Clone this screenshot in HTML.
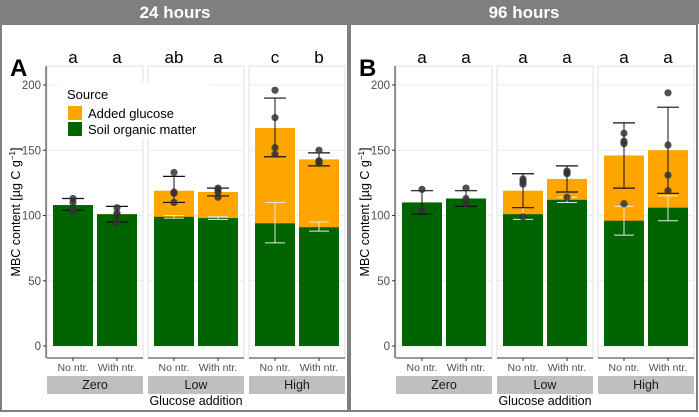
<!DOCTYPE html>
<html><head><meta charset="utf-8"><style>
body{margin:0;background:#fff;font-family:"Liberation Sans",sans-serif}
svg text{font-family:"Liberation Sans",sans-serif}
</style></head><body>
<svg id="c" width="699" height="412" viewBox="0 0 699 412"></svg>
<script>
const facets=["Zero","Low","High"];
const treatments=["No ntr.","With ntr."];
const panels=["24 hours","96 hours"];
const panelLetters=["A","B"];
const yTicks=[0,50,100,150,200];
const totals=[[108,101,119,118,167,143],[110,113,119,128,146,150]];
const soilMean=[[108,101,99,98,94,91],[110,113,101,112,96,106]];
const errLo=[[104,95,110,115,145,138],[101,107,106,118,121,117]];
const errHi=[[113,107,130,121,190,148],[119,119,132,138,171,183]];
const soilErrLo=[[null,null,98,97,79,88],[null,null,97,110,85,96]];
const soilErrHi=[[null,null,100,99,110,95],[null,null,106,114,107,115]];
const points=[[[103,105,110,113],[94,100,102,106],[110,117,118,133],[114,118,120,121],[147,152,175,196],[140,141,142,150]],
[[104,105,120],[109,110,113,121],[99,124,126,128],[114,132,133,134],[109,155,157,163],[119,131,154,194]]];
const letters=[["a","a","ab","a","c","b"],["a","a","a","a","a","a"]];

const NS="http://www.w3.org/2000/svg";
const svg=document.getElementById("c");
function el(tag,attrs,parent){const e=document.createElementNS(NS,tag);for(const k in attrs)e.setAttribute(k,attrs[k]);(parent||svg).appendChild(e);return e;}
function txt(s,attrs,parent){const t=el("text",attrs,parent);t.textContent=s;return t;}
const y0=346,y200=85;
function Y(v){return y0-(v/200)*(y0-y200);}

el("rect",{x:0,y:0,width:699,height:412,fill:"#ffffff"});
for(let p=0;p<2;p++){
  const off=p===0?0:349;
  const g=el("g",{});
  
  
  const hdr=el("rect",{x:off,y:0,width:p===0?349:350,height:24,fill:"#7f7f7f"},g);
  
  
  const ht=txt(panels[p],{x:off+175,y:18,"text-anchor":"middle","font-size":17,"font-weight":"bold",fill:"#fff"},g);
  
  
  el("rect",{x:off+1,y:24,width:347,height:387,fill:"none",stroke:"#7f7f7f","stroke-width":2},g);
  const L=txt(panelLetters[p],{x:off+10,y:76,"font-size":24,"font-weight":"bold",fill:"#000"},g);
  
  
  el("line",{x1:off+46,y1:66,x2:off+46,y2:358,stroke:"#333","stroke-width":1},g);
  yTicks.forEach(v=>{
    el("line",{x1:off+43,y1:Y(v),x2:off+46,y2:Y(v),stroke:"#333"},g);
    const t=txt(String(v),{x:off+41,y:Y(v)+4,"text-anchor":"end","font-size":11.5,fill:"#4d4d4d"},g);
    
    
  });
  const yt=txt("MBC content [µg C g",{transform:`translate(${off+20},212) rotate(-90)`,"text-anchor":"middle","font-size":12.5,fill:"#000"},g);
  const sup=el("tspan",{"font-size":8,dy:-5},yt);sup.textContent="−1";
  const cl=el("tspan",{"font-size":12.5,dy:5},yt);cl.textContent="]";
  
  
  const xt=txt("Glucose addition",{x:off+196,y:405,"text-anchor":"middle","font-size":12.5,fill:"#000"},g);
  
  
  facets.forEach((f,fi)=>{
    const fx=off+47+fi*101;
    const fr=el("rect",{x:fx,y:66,width:96,height:292,fill:"#fff",stroke:"#e0e0e0","stroke-width":1},g);
    
    
    yTicks.forEach(v=>el("line",{x1:fx,y1:Y(v),x2:fx+96,y2:Y(v),stroke:"#ebebeb"},g));
    el("line",{x1:fx,y1:358,x2:fx+96,y2:358,stroke:"#333"},g);
    const st=el("rect",{x:fx,y:376,width:96,height:18,fill:"#bfbfbf"},g);
    
    
    txt(f,{x:fx+48,y:389,"text-anchor":"middle","font-size":12.5,fill:"#1a1a1a"},g);
    treatments.forEach((tr,ti)=>{
      const i=fi*2+ti;
      const bx=fx+6+ti*44,bw=40,cx=bx+bw/2;
      el("line",{x1:cx,y1:358,x2:cx,y2:361,stroke:"#333"},g);
      const tl=txt(tr,{x:cx,y:371,"text-anchor":"middle","font-size":10.5,fill:"#4d4d4d"},g);
      
      
      const ob=el("rect",{x:bx,y:Y(totals[p][i]),width:bw,height:Y(0)-Y(totals[p][i]),fill:"#ffa500"},g);
      
      
      const gb=el("rect",{x:bx,y:Y(soilMean[p][i]),width:bw,height:Y(0)-Y(soilMean[p][i]),fill:"#006400"},g);
      
      
      if(soilErrLo[p][i]!==null){
        el("line",{x1:cx,y1:Y(soilErrLo[p][i]),x2:cx,y2:Y(soilErrHi[p][i]),stroke:"#e8e8e8"},g);
        [soilErrLo[p][i],soilErrHi[p][i]].forEach(v=>el("line",{x1:cx-10,y1:Y(v),x2:cx+10,y2:Y(v),stroke:"#e8e8e8"},g));
      }
      el("line",{x1:cx,y1:Y(errLo[p][i]),x2:cx,y2:Y(errHi[p][i]),stroke:"#111","stroke-width":1},g);
      [errLo[p][i],errHi[p][i]].forEach(v=>el("line",{x1:cx-11,y1:Y(v),x2:cx+11,y2:Y(v),stroke:"#111","stroke-width":1.2},g));
      points[p][i].forEach(v=>{
        const c=el("circle",{cx:cx,cy:Y(v),r:3.6,fill:"#333","fill-opacity":0.85},g);
        
        
      });
      const lt=txt(letters[p][i],{x:cx,y:63,"text-anchor":"middle","font-size":17,fill:"#000"},g);
      
      
    });
  });
}
const lg=el("g",{});


el("rect",{x:58,y:82,width:152,height:56,fill:"#fff"},lg);
txt("Source",{x:67,y:99,"font-size":13,fill:"#000"},lg);
const lo=el("rect",{x:68,y:106,width:14,height:14,fill:"#ffa500"},lg);


txt("Added glucose",{x:88,y:118,"font-size":13,fill:"#000"},lg);
const lgn=el("rect",{x:68,y:122,width:14,height:14,fill:"#006400"},lg);


txt("Soil organic matter",{x:88,y:134,"font-size":13,fill:"#000"},lg);
</script>
</body></html>
